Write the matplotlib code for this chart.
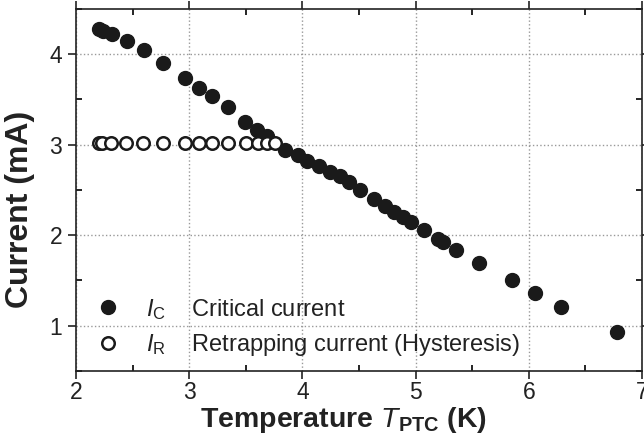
import numpy as np
import matplotlib
matplotlib.use('Agg')
import matplotlib.pyplot as plt
from matplotlib.ticker import MultipleLocator

plt.rcParams['font.family'] = ['Liberation Sans', 'DejaVu Sans']
plt.rcParams['mathtext.fontset'] = 'custom'
plt.rcParams['mathtext.rm'] = 'Liberation Sans'
plt.rcParams['mathtext.it'] = 'Liberation Sans:italic'
plt.rcParams['mathtext.bf'] = 'Liberation Sans:bold'
plt.rcParams['mathtext.bfit'] = 'Liberation Sans:bold:italic'

# critical current (filled)
t_c = [2.20, 2.24, 2.32, 2.45, 2.60, 2.77, 2.96, 3.09, 3.20, 3.34, 3.49, 3.60,
       3.69, 3.85, 3.96, 4.04, 4.15, 4.24, 4.33, 4.41, 4.51, 4.63, 4.73, 4.81,
       4.89, 4.96, 5.07, 5.20, 5.24, 5.36, 5.56, 5.85, 6.05, 6.28, 6.78]
i_c = [4.275, 4.26, 4.22, 4.14, 4.04, 3.90, 3.74, 3.62, 3.535, 3.41, 3.25, 3.16,
       3.10, 2.94, 2.88, 2.82, 2.76, 2.70, 2.65, 2.59, 2.50, 2.40, 2.32, 2.26,
       2.20, 2.14, 2.055, 1.955, 1.92, 1.84, 1.69, 1.50, 1.36, 1.21, 0.93]

# retrapping current (open)
t_r = [2.20, 2.23, 2.31, 2.44, 2.59, 2.77, 2.96, 3.09, 3.20, 3.34, 3.50, 3.61, 3.69, 3.76]
i_r = [3.02, 3.02, 3.02, 3.02, 3.02, 3.02, 3.02, 3.02, 3.02, 3.02, 3.02, 3.02, 3.02, 3.02]

fig = plt.figure(figsize=(6.44, 4.41), dpi=100)
ax = fig.add_axes([0.118, 0.159, 0.879, 0.821])

ax.plot(t_c, i_c, 'o', color='#1a1a1a', ms=10, mec='#1a1a1a',
        label=r'$I_{\rm C}$    Critical current')
ax.plot(t_r, i_r, 'o', color='#1a1a1a', ms=9, mfc='white', mew=1.8,
        label=r'$I_{\rm R}$    Retrapping current (Hysteresis)')

ax.set_xlim(2, 7)
ax.set_ylim(0.5, 4.5)
ax.xaxis.set_major_locator(MultipleLocator(1))
ax.xaxis.set_minor_locator(MultipleLocator(0.5))
ax.yaxis.set_major_locator(MultipleLocator(1))
ax.yaxis.set_minor_locator(MultipleLocator(0.5))
ax.grid(True, which='major', ls=':', color='#999999', lw=1)

ax.tick_params(which='major', direction='out', length=6, width=1.2, labelsize=16.5,
               colors='#222222', pad=4)
ax.tick_params(axis='x', which='major', pad=1)
ax.tick_params(which='minor', direction='in', length=4, width=1.2)
ax.tick_params(which='both', top=True, right=True)
for s in ax.spines.values():
    s.set_linewidth(1.2)
    s.set_color('#222222')

ax.set_xlabel(r'Temperature $\bf{\it{T}}_{\bf{PTC}}$ (K)', fontsize=20.5,
              fontweight='bold', color='#222222')
ax.xaxis.set_label_coords(0.473, -0.093)
ax.set_ylabel('Current (mA)', fontsize=23, fontweight='bold', color='#222222')
ax.yaxis.set_label_coords(-0.073, 0.447)

ax.legend(loc='lower left', bbox_to_anchor=(-0.027, -0.03), frameon=False,
          fontsize=17, handletextpad=0.6, labelspacing=0.45, borderpad=0.5,
          labelcolor='#222222')

fig.savefig('out.png', dpi=100)
